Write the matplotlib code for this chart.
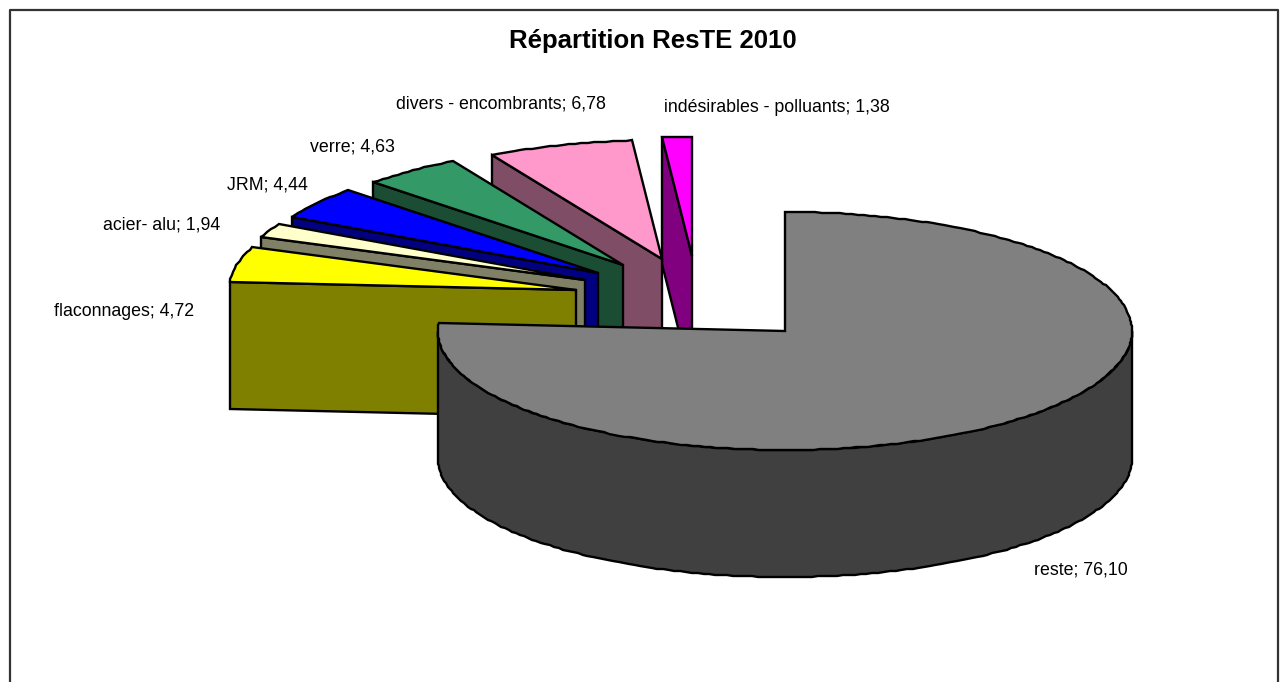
import numpy as np
import matplotlib
matplotlib.use('Agg')
import matplotlib.pyplot as plt
from matplotlib.patches import Polygon

plt.rcParams['font.family'] = ['Liberation Sans', 'DejaVu Sans']

# data, in drawing order round the pie (clockwise from the top)
categories = ['reste', 'flaconnages', 'acier- alu', 'JRM', 'verre',
              'divers - encombrants', 'indésirables - polluants']
values = [76.10, 4.72, 1.94, 4.44, 4.63, 6.78, 1.38]
title = 'Répartition ResTE 2010'

top_colors = ['#808080', '#FFFF00', '#FFFFCC', '#0000FF', '#339966', '#FF99CC', '#FF00FF']
side_colors = ['#404040', '#808000', '#808066', '#000080', '#1A4D33', '#804D66', '#800080']

# layout in pixels
center = (785, 331)
rx, ry, depth = 347, 119, 127
explode = [(0, 0), (-209, -41), (-200, -51), (-187, -58), (-162, -66), (-123, -72), (-93, -75)]
label_pos = [(1034, 570), (54, 312), (103, 225), (227, 185), (310, 147), (396, 104), (664, 107)]

LW = 1.7


def arc(cx, cy, a0, a1, n=80):
    t = np.radians(np.linspace(a0, a1, n))
    pts = np.column_stack([cx + rx * np.sin(t), cy - ry * np.cos(t)])
    # the old chart snaps its curves to whole pixels, which makes them a bit bumpy
    return np.round(pts)


fig = plt.figure(figsize=(12.84, 6.82), dpi=100)
ax = fig.add_axes([0, 0, 1, 1])
ax.set_xlim(0, 1284)
ax.set_ylim(682, 0)
ax.axis('off')

# cadre (no bottom edge, it falls outside the picture)
ax.plot([9.5, 9.5, 1277.5, 1277.5], [682, 9.5, 9.5, 682], color='#333333', lw=1.6)

edges = np.cumsum([0] + values) / sum(values) * 360

# back slices first, the big one goes on top
for i in range(len(values) - 1, -1, -1):
    a0, a1 = edges[i], edges[i + 1]
    cx, cy = center[0] + explode[i][0], center[1] + explode[i][1]
    n = max(int(a1 - a0), 3)
    outer = arc(cx, cy, a0, a1, n)
    if i == 0:
        # outer wall, only the front half can be seen
        wall = arc(cx, cy, 90, 270, 180)
        pts = np.vstack([wall, (wall + [0, depth])[::-1]])
        ax.add_patch(Polygon(pts, fc=side_colors[i], ec='black', lw=LW))
    else:
        # cut face on the starting edge
        p = outer[0]
        pts = [(cx, cy), p, (p[0], p[1] + depth), (cx, cy + depth)]
        ax.add_patch(Polygon(pts, fc=side_colors[i], ec='black', lw=LW))
    ax.add_patch(Polygon(np.vstack([[(cx, cy)], outer]), fc=top_colors[i], ec='black', lw=LW))

for cat, val, (x, y) in zip(categories, values, label_pos):
    txt = f'{cat}; {val:.2f}'.replace('.', ',')
    ax.text(x, y, txt, fontsize=12.8, ha='left', va='center', color='black')

ax.text(653, 41, title, fontsize=18.5, fontweight='bold', ha='center', va='center', color='black')

fig.savefig('out.png', dpi=100)
